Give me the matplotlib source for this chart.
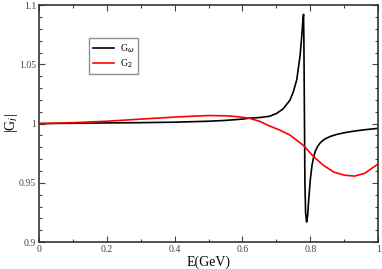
import numpy as np
import matplotlib
matplotlib.use('Agg')
import matplotlib.pyplot as plt
from matplotlib.ticker import MultipleLocator

# Values
E_omega = [0.0, 0.1, 0.2, 0.3, 0.4, 0.5, 0.55, 0.6, 0.62, 0.65, 0.68, 0.70, 0.72, 0.74,
           0.75, 0.76, 0.77, 0.775, 0.778, 0.780, 0.781, 0.782, 0.783, 0.784, 0.786,
           0.789, 0.792, 0.795, 0.80, 0.805, 0.81, 0.815, 0.822, 0.83, 0.84, 0.85,
           0.86, 0.877, 0.9, 0.93, 0.96, 1.0]
G_omega = [1.0, 1.0003, 1.0006, 1.0008, 1.0012, 1.002, 1.0027, 1.0038, 1.0046, 1.0051,
           1.0062, 1.0085, 1.0125, 1.0198, 1.027, 1.037, 1.058, 1.075, 1.087, 1.0922,
           1.07, 1.03, 0.99, 0.95, 0.925, 0.917, 0.922, 0.935, 0.953, 0.965, 0.972,
           0.977, 0.981, 0.984, 0.9865, 0.988, 0.9893, 0.9908, 0.9923, 0.9937,
           0.9948, 0.996]

E_2 = [0.0, 0.1, 0.2, 0.3, 0.4, 0.45, 0.5, 0.55, 0.58, 0.6, 0.62, 0.65, 0.68, 0.71,
       0.74, 0.78, 0.81, 0.84, 0.87, 0.9, 0.93, 0.96, 1.0]
G_2 = [1.0, 1.0008, 1.002, 1.0038, 1.0055, 1.0062, 1.0068, 1.0066, 1.006, 1.0053,
       1.0045, 1.002, 0.998, 0.9945, 0.9903, 0.9815, 0.972, 0.9645, 0.959, 0.9565,
       0.9557, 0.958, 0.966]

x_ticks = [0, 0.2, 0.4, 0.6, 0.8, 1.0]
x_labels = ['0', '0.2', '0.4', '0.6', '0.8', '1']
y_ticks = [0.9, 0.95, 1.0, 1.05, 1.1]
y_labels = ['0.9', '0.95', '1', '1.05', '1.1']

plt.rcParams['font.family'] = ['Liberation Serif', 'DejaVu Serif']

fig = plt.figure(figsize=(3.82, 2.69), dpi=100)
ax = fig.add_axes([0.102, 0.100, 0.888, 0.881])

ax.plot(E_omega, G_omega, color='black', lw=1.2, label=r'G$_\omega$')
ax.plot(E_2, G_2, color='red', lw=1.2, label=r'G$_2$')

ax.set_xlim(0, 1)
ax.set_ylim(0.9, 1.1)
ax.set_xticks(x_ticks)
ax.set_xticklabels(x_labels)
ax.set_yticks(y_ticks)
ax.set_yticklabels(y_labels)
ax.xaxis.set_minor_locator(MultipleLocator(0.1))
ax.yaxis.set_minor_locator(MultipleLocator(0.01))
ax.tick_params(which='both', direction='in', top=True, right=True,
               labelsize=7, colors='#444444', pad=2)
ax.tick_params(which='major', length=4, width=0.8)
ax.tick_params(which='minor', length=2, width=0.8)
for s in ax.spines.values():
    s.set_linewidth(1.2)
    s.set_color('#333333')

ax.set_xlabel('E(GeV)', fontsize=10, labelpad=1)
ax.set_ylabel(r'|G$_i$|', fontsize=10)
ax.yaxis.set_label_coords(-0.056, 0.5)

leg = ax.legend(loc='upper left', bbox_to_anchor=(0.147, 0.861), borderaxespad=0,
                fontsize=7, fancybox=False, handlelength=2.2, handletextpad=0.6,
                labelspacing=0.3, borderpad=0.4)
leg.get_frame().set_edgecolor('#777777')
leg.get_frame().set_linewidth(1.0)

fig.savefig('out.png', dpi=100)
